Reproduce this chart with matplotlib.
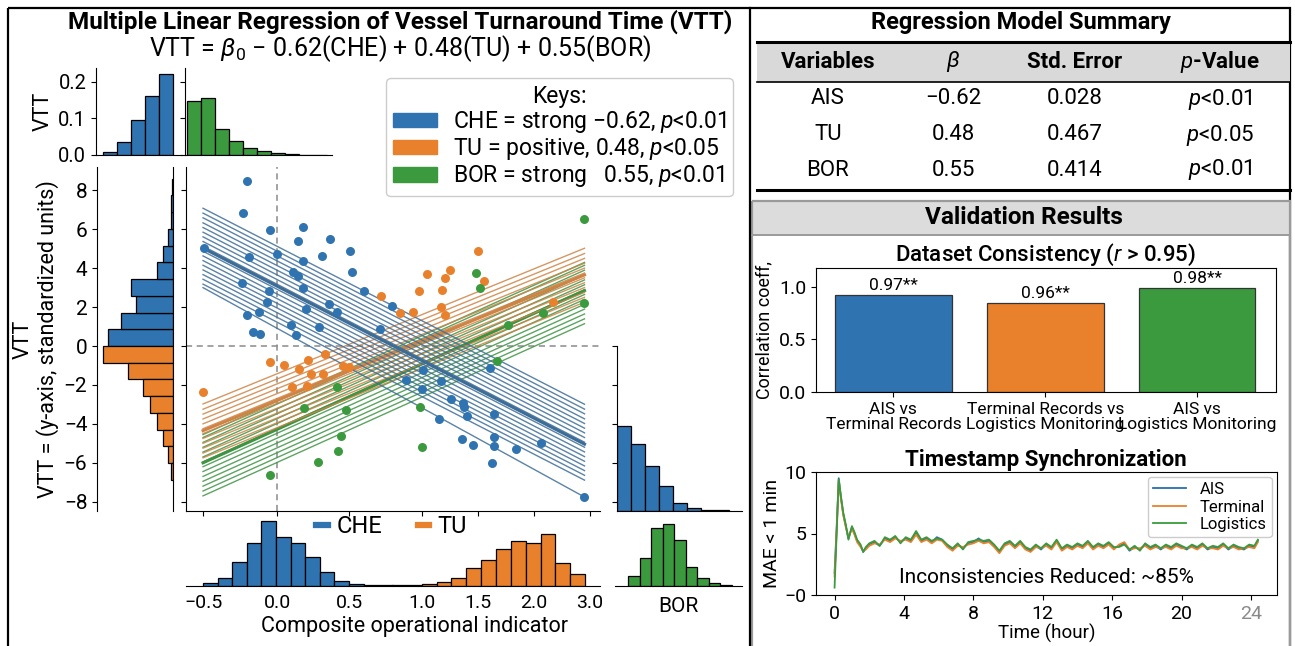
import numpy as np
import matplotlib.pyplot as plt
from matplotlib.patches import Rectangle, Patch
from matplotlib.lines import Line2D

plt.rcParams['font.family'] = ['Roboto', 'DejaVu Sans']
plt.rcParams['mathtext.fontset'] = 'custom'
plt.rcParams['mathtext.rm'] = 'Roboto'
plt.rcParams['mathtext.it'] = 'Roboto:italic'
plt.rcParams['mathtext.bf'] = 'Roboto:bold'

BLUE = '#2f73b0'
ORANGE = '#e9812c'
GREEN = '#3c9a3e'
BLUE_LN = '#3d6d97'
ORANGE_LN = '#cf8446'
GREEN_LN = '#3f9444'

# ---------------- data: main scatter ----------------
CHE_X = [-0.105, -0.136, 0.106, 0.402, 0.649, 0.362, -0.488, 0.167, 0.576, 0.827,
         -0.087, 0.407, 0.850, 0.317, 0.359, -0.147, 0.407, 0.956, 0.097, 0.082,
         0.637, 0.432, 0.709, 0.009, -0.105, 1.207, 0.546, 0.299, -0.050, 0.016,
         0.341, 1.104, 2.096, 1.478, 1.650, 1.740, 1.854, 1.861, 1.890, 2.135,
         1.632, 1.840, 1.945, 2.135, 2.129, 2.334, 2.557, 2.116, 2.948, 1.336, 1.492]
CHE_Y = [8.50, 6.85, 5.95, 6.12, 5.52, 5.40, 5.02, 4.71, 4.61, 4.87,
         4.56, 4.39, 3.82, 3.79, 3.61, 3.24, 2.97, 2.84, 2.84, 2.27,
         2.17, 1.90, 1.76, 1.76, 1.59, 2.06, 0.96, 1.08, 0.74, 0.62,
         0.57, 0.86, -1.15, -2.23, -1.80, -2.74, -2.95, -3.12, -3.58, -3.48,
         -3.75, -4.77, -5.09, -4.69, -5.14, -5.31, -4.97, -6.03, -7.76, -1.75, -1.23]

TU_X = [1.110, -0.497, 0.106, 0.230, 0.447, 0.606, 0.366, 0.477, 0.583, 0.305,
        0.441, 0.769, 0.823, 1.984, 1.734, 1.529, 1.689, 2.044, 1.454, 1.662,
        1.282, 1.397, 1.652, 1.689, 2.665]
TU_Y = [2.57, -2.38, -0.84, -0.98, -0.72, -0.43, -1.20, -1.44, -1.44, -2.09,
        -2.04, -1.03, -1.08, 4.90, 3.89, 3.69, 3.51, 3.36, 2.84, 2.88,
        1.71, 1.75, 2.02, 1.59, 2.28]

BOR_X = [0.106, 0.543, 0.718, 0.748, 0.709, 0.793, 0.416, 2.948, 1.966, 2.005,
         2.948, 2.261, 2.578, 2.156, 1.463, 1.478]
BOR_Y = [-6.63, -5.95, -5.40, -4.61, -2.09, -3.31, -3.20, 6.53, 3.74, 2.98,
         2.21, 1.06, 1.68, -0.77, -3.15, -5.18]

# fitted lines: (intercept, slope) and bundle offsets
LINE_SPAN = [-0.5, 2.95]
CHE_FIT = (3.57, -2.92)
CHE_EXTRA_FIT = (1.44, -3.12)
CHE_OFFSETS = [-1.85, -1.6, -1.36, -1.12, -0.88, -0.64, -0.40, -0.16, 0.10,
               0.34, 0.58, 0.82, 1.06, 1.30, 1.56, 1.80, 2.05]
TU_FIT = (-3.19, 2.32)
TU_OFFSETS = [-1.4, -1.15, -0.9, -0.65, -0.4, -0.15, 0.1, 0.35, 0.6, 0.85, 1.1, 1.37]
BOR_FIT = (-4.72, 2.565)
BOR_OFFSETS = [-1.7, -1.45, -1.2, -0.95, -0.7, -0.45, -0.2, 0.05, 0.3, 0.55,
               0.8, 1.05, 1.3, 1.45]

XTICK_POS = [-0.5, 0.169, 0.82, 1.48, 1.99, 2.49, 3.0]
XTICK_LABELS = ['\u22120.5', '0.0', '0.5', '1.0', '1.5', '2.0', '3.0']

# ---------------- data: marginal histograms ----------------
TOP_CHE = [0.009, 0.036, 0.096, 0.162, 0.222]
TOP_BOR = [0.149, 0.157, 0.070, 0.037, 0.018, 0.011, 0.005, 0.002, 0.001, 0.001]

VTT_BIN = 0.86
VTT_POS = [64.7, 52.3, 37.3, 42.0, 16.3, 9.7, 4.7, 2.3, 2.3, 1.3]      # blue, upward from 0
VTT_NEG = [69.7, 44.7, 29.7, 23.0, 16.3, 10.3, 4.7, 2.3]                # orange, downward from 0

RIGHT_VTT = [4.39, 3.46, 2.33, 1.30, 0.40, 0.17, 0.05, 0.03]

CHE_HIST_START, CHE_HIST_W = -0.5, 0.132
CHE_HIST = [2.2, 7.2, 23.2, 42.2, 64.5, 48.8, 42.2, 28.8, 13.2, 4.8, 1.5, 0.8, 0.5]
TU_HIST_START, TU_HIST_W = 1.209, 0.1343
TU_HIST = [0.3, 0.6, 1.5, 3.2, 7.2, 17.8, 25.5, 36.5, 44.8, 42.2, 51.5, 22.2, 11.5]
BOR_HIST = [9.7, 27.3, 57.3, 61.3, 45.7, 19.0, 7.3, 2.7, 1.0]

# ---------------- data: right panel ----------------
TABLE_HEAD = ['Variables', r'$\beta$', 'Std. Error', r'$p$-Value']
TABLE_ROWS = [['AIS', '\u22120.62', '0.028', r'$p$<0.01'],
              ['TU', '0.48', '0.467', r'$p$<0.05'],
              ['BOR', '0.55', '0.414', r'$p$<0.01']]

PAIRS = ['AIS vs\nTerminal Records', 'Terminal Records vs\nLogistics Monitoring',
         'AIS vs\nLogistics Monitoring']
CORR = [0.924, 0.848, 0.993]
CORR_LABELS = ['0.97**', '0.96**', '0.98**']

TIME_H = [0.0, 0.12, 0.24, 0.36, 0.5, 0.65, 0.8, 1.0, 1.15, 1.3, 1.5, 1.65, 1.8,
          2.0, 2.3, 2.6, 2.9, 3.2, 3.5, 3.8, 4.1, 4.4, 4.7,
          5.0, 5.3, 5.6, 5.9, 6.2, 6.5, 6.8, 7.1, 7.4, 7.7,
          8.0, 8.3, 8.6, 8.9, 9.2, 9.5, 9.8, 10.1, 10.4, 10.7,
          11.0, 11.3, 11.6, 11.9, 12.2, 12.5, 12.8, 13.1, 13.4, 13.7,
          14.0, 14.3, 14.6, 14.9, 15.2, 15.5, 15.8, 16.1, 16.4, 16.7,
          17.0, 17.3, 17.6, 17.9, 18.2, 18.5, 18.8, 19.1, 19.4, 19.7,
          20.0, 20.3, 20.6, 20.9, 21.2, 21.5, 21.8, 22.1, 22.4, 22.7,
          23.0, 23.3, 23.6, 23.9, 24.2, 24.4]
MAE_AIS = [1.8, 5.5, 9.5, 8.0, 6.6, 5.6, 4.6, 5.5, 5.0, 4.4, 4.0, 3.5, 3.8,
           4.1, 4.3, 4.0, 4.6, 4.4, 4.7, 4.3, 4.6, 4.4, 5.1,
           4.4, 4.6, 4.3, 4.7, 4.5, 4.0, 3.7, 4.1, 3.8, 4.2,
           4.3, 4.6, 4.3, 4.4, 4.0, 3.5, 4.1, 4.3, 3.9, 4.3,
           3.8, 3.6, 4.0, 3.7, 4.1, 3.8, 4.4, 3.7, 4.0, 3.8,
           4.1, 3.9, 4.3, 3.8, 4.1, 3.9, 4.2, 3.8, 4.0, 4.2,
           3.6, 3.9, 3.7, 4.1, 3.8, 4.0, 3.7, 4.0, 3.8, 4.1,
           3.9, 3.7, 4.0, 3.8, 4.1, 3.7, 3.9, 3.8, 4.1, 3.7,
           4.0, 3.8, 3.7, 4.0, 3.9, 4.4]
MAE_TERMINAL = [1.5, 5.2, 9.3, 7.9, 6.5, 5.5, 4.7, 5.4, 4.9, 4.3, 3.9, 3.6, 3.7,
                4.0, 4.2, 4.1, 4.5, 4.3, 4.6, 4.4, 4.5, 4.3, 4.9,
                4.3, 4.5, 4.2, 4.5, 4.4, 3.9, 3.6, 4.0, 3.9, 4.1,
                4.2, 4.4, 4.2, 4.3, 3.9, 3.4, 4.0, 4.2, 3.8, 4.2,
                3.7, 3.5, 3.9, 3.8, 4.0, 3.7, 4.3, 3.6, 3.9, 3.7,
                4.0, 3.8, 4.2, 3.7, 4.0, 3.8, 4.1, 3.7, 4.1, 4.3,
                3.7, 3.8, 3.8, 4.0, 3.7, 3.9, 3.8, 3.9, 3.7, 4.0,
                3.8, 3.8, 3.9, 3.7, 4.0, 3.8, 3.8, 3.7, 4.0, 3.8,
                3.9, 3.7, 3.8, 3.9, 3.8, 4.3]
MAE_LOGISTICS = [0.6, 5.0, 9.4, 8.1, 6.7, 5.7, 4.5, 5.6, 5.1, 4.5, 4.1, 3.5, 3.9,
                 4.2, 4.4, 4.0, 4.7, 4.5, 4.8, 4.2, 4.7, 4.5, 5.2,
                 4.5, 4.7, 4.4, 4.6, 4.5, 4.1, 3.8, 4.2, 3.7, 4.3,
                 4.4, 4.5, 4.4, 4.5, 4.1, 3.6, 4.2, 4.4, 4.0, 4.4,
                 3.9, 3.7, 4.1, 3.8, 4.2, 3.9, 4.5, 3.8, 4.1, 3.9,
                 4.2, 4.0, 4.4, 3.9, 4.2, 4.0, 4.3, 3.9, 3.9, 4.1,
                 3.7, 4.0, 3.6, 4.2, 3.9, 4.1, 3.8, 4.1, 3.9, 4.2,
                 4.0, 3.8, 4.1, 3.9, 4.2, 3.8, 4.0, 3.9, 4.2, 3.8,
                 4.1, 3.9, 3.8, 4.1, 4.0, 4.5]

# ------------------------------------------------------------
W, H = 1295, 646
fig = plt.figure(figsize=(W / 100, H / 100), dpi=100)


def box(x0, y0, x1, y1):
    """pixel box (top-left origin) -> figure rect"""
    return [x0 / W, 1 - y1 / H, (x1 - x0) / W, (y1 - y0) / H]


# canvas in pixel coordinates for frames and the table
cv = fig.add_axes([0, 0, 1, 1])
cv.set_xlim(0, W)
cv.set_ylim(H, 0)
cv.axis('off')
cv.add_patch(Rectangle((8, 8), 1282, 660, fill=False, ec='black', lw=1.6))
cv.plot([750, 750], [8, H], color='black', lw=1.6)

# ---------------- left panel ----------------
YLIM = (-8.48, 9.20)
XLIM = (-0.654, 3.09)

ax = fig.add_axes(box(186, 167, 600, 511))
ax.set_xlim(*XLIM)
ax.set_ylim(*YLIM)
for s in ['top', 'right']:
    ax.spines[s].set_visible(False)
ax.set_xticks(XTICK_POS)
ax.set_xticklabels([])
ax.set_yticks(np.arange(-8, 9, 2))
ax.set_yticklabels([])
ax.axvline(XTICK_POS[1], color='#8a8a8a', lw=1.1, ls=(0, (4, 3)), zorder=1)
ax.axhline(0, color='#8a8a8a', lw=1.1, ls=(0, (4, 3)), zorder=1)

xs = np.array(LINE_SPAN)
for off in BOR_OFFSETS:
    ax.plot(xs, BOR_FIT[0] + BOR_FIT[1] * xs + off, color=GREEN_LN, lw=1.0, alpha=0.85, zorder=2)
ax.plot(xs, BOR_FIT[0] + BOR_FIT[1] * xs, color=GREEN_LN, lw=2.2, zorder=2)
for off in TU_OFFSETS:
    ax.plot(xs, TU_FIT[0] + TU_FIT[1] * xs + off, color=ORANGE_LN, lw=1.0, alpha=0.85, zorder=2)
ax.plot(xs, TU_FIT[0] + TU_FIT[1] * xs, color=ORANGE_LN, lw=2.2, zorder=2)
for off in CHE_OFFSETS:
    ax.plot(xs, CHE_FIT[0] + CHE_FIT[1] * xs + off, color=BLUE_LN, lw=1.0, alpha=0.85, zorder=2)
ax.plot(xs, CHE_EXTRA_FIT[0] + CHE_EXTRA_FIT[1] * xs, color=BLUE_LN, lw=1.0, alpha=0.85, zorder=2)
ax.plot(xs, CHE_FIT[0] + CHE_FIT[1] * xs, color=BLUE_LN, lw=2.2, zorder=2)

ax.scatter(CHE_X, CHE_Y, s=42, color=BLUE, lw=0, zorder=3)
ax.scatter(TU_X, TU_Y, s=42, color=ORANGE, lw=0, zorder=3)
ax.scatter(BOR_X, BOR_Y, s=42, color=GREEN, lw=0, zorder=3)

# left marginal (VTT)
axl = fig.add_axes(box(97, 167, 173, 511))
pos_c = VTT_BIN * (np.arange(len(VTT_POS)) + 0.5)
neg_c = -VTT_BIN * (np.arange(len(VTT_NEG)) + 0.5)
axl.barh(pos_c, VTT_POS, height=VTT_BIN, color=BLUE, ec='black', lw=0.9)
axl.barh(neg_c, VTT_NEG, height=VTT_BIN, color=ORANGE, ec='black', lw=0.9)
axl.set_xlim(76, 0)
axl.set_ylim(*YLIM)
axl.set_xticks([])
axl.spines['top'].set_visible(False)
axl.spines['bottom'].set_visible(False)
axl.set_yticks(np.arange(-8, 9, 2))
axl.set_yticklabels([str(v).replace('-', '\u2212') for v in range(-8, 9, 2)], fontsize=15)
axl.set_ylabel('VTT\nVTT = (y-axis, standardized units)', fontsize=15.5, labelpad=3,
               linespacing=1.15)

# top marginals
axt1 = fig.add_axes(box(96, 68, 182, 155))
axt1.bar(np.arange(len(TOP_CHE)), TOP_CHE, width=1, align='edge', color=BLUE, ec='black', lw=0.9)
axt1.set_xlim(-0.5, 5.64)
axt1.set_ylim(0, 0.238)
axt1.set_xticks([])
axt1.set_yticks([0, 0.1, 0.2])
axt1.set_yticklabels(['0.0', '0.1', '0.2'], fontsize=14.5)
axt1.set_ylabel('VTT', fontsize=15.5, labelpad=3)
for s in ['top', 'right']:
    axt1.spines[s].set_visible(False)

axt2 = fig.add_axes(box(185, 68, 332, 155))
axt2.bar(np.arange(len(TOP_BOR)), TOP_BOR, width=1, align='edge', color=GREEN, ec='black', lw=0.9)
axt2.set_xlim(-0.14, 10.36)
axt2.set_ylim(0, 0.238)
axt2.set_xticks([])
axt2.set_yticks([0, 0.1, 0.2])
axt2.set_yticklabels([])
for s in ['top', 'right']:
    axt2.spines[s].set_visible(False)

# right marginal (BOR vs VTT)
axr = fig.add_axes(box(617, 346, 742, 511))
axr.bar(np.arange(len(RIGHT_VTT)), RIGHT_VTT, width=1, align='edge', bottom=YLIM[0],
        color=BLUE, ec='black', lw=0.9)
axr.set_xlim(0, 8.93)
axr.set_ylim(YLIM[0], 0)
axr.set_xticks([])
axr.set_yticks([0, -2, -4, -6, -8])
axr.set_yticklabels([])
for s in ['top', 'right']:
    axr.spines[s].set_visible(False)

# bottom marginal (composite indicator)
axb = fig.add_axes(box(186, 518, 600, 585.5))
axb.bar(CHE_HIST_START + CHE_HIST_W * np.arange(len(CHE_HIST)), CHE_HIST, width=CHE_HIST_W,
        align='edge', color=BLUE, ec='black', lw=0.9)
axb.bar(TU_HIST_START + TU_HIST_W * np.arange(len(TU_HIST)), TU_HIST, width=TU_HIST_W,
        align='edge', color=ORANGE, ec='black', lw=0.9)
axb.set_xlim(*XLIM)
axb.set_ylim(0, 67.5)
axb.set_yticks([])
for s in ['top', 'right', 'left']:
    axb.spines[s].set_visible(False)
axb.set_xticks(XTICK_POS)
axb.set_xticklabels(XTICK_LABELS, fontsize=14)
axb.tick_params(axis='x', length=0, pad=6)
axb.set_xlabel('Composite operational indicator', fontsize=15.5, labelpad=3, x=0.553)
axb.legend(handles=[Line2D([], [], color=BLUE, lw=4.5), Line2D([], [], color=ORANGE, lw=4.5)],
           labels=['CHE', 'TU'], ncol=2, frameon=False, fontsize=17, handlelength=0.5,
           handletextpad=0.35, columnspacing=1.5, loc='center left', borderpad=0,
           borderaxespad=0, bbox_to_anchor=(0.315, 0.87))

axbr = fig.add_axes(box(615, 518, 742, 585.5))
axbr.bar(np.arange(len(BOR_HIST)), BOR_HIST, width=1, align='edge', color=GREEN, ec='black', lw=0.9)
axbr.set_xlim(-1.13, 9.91)
axbr.set_ylim(0, 67.5)
axbr.set_xticks([])
axbr.set_yticks([])
for s in ['top', 'right', 'left']:
    axbr.spines[s].set_visible(False)
axbr.set_xlabel('BOR', fontsize=15, labelpad=8)

# titles and keys
cv.text(400, 22, 'Multiple Linear Regression of Vessel Turnaround Time (VTT)', ha='center',
        va='center', fontsize=17.5, fontweight='bold')
cv.text(400, 49, r'VTT = $\beta_0$ $-$ 0.62(CHE) + 0.48(TU) + 0.55(BOR)', ha='center',
        va='center', fontsize=18)
key_handles = [Patch(color=BLUE), Patch(color=ORANGE), Patch(color=GREEN)]
key_labels = [r'CHE = strong $-$0.62, $p$<0.01', r'TU = positive, 0.48, $p$<0.05',
              r'BOR = strong   0.55, $p$<0.01']
fig.legend(key_handles, key_labels, title='Keys:', title_fontsize=16.5, fontsize=16.5,
           loc='upper right', bbox_to_anchor=(733 / W, 1 - 78 / H), handlelength=1.9,
           handleheight=0.6, handletextpad=0.7, labelspacing=0.05, borderpad=0.3,
           borderaxespad=0, framealpha=1.0, edgecolor='#cccccc')

# ---------------- right panel: table ----------------
cv.text(1021, 22, 'Regression Model Summary', ha='center', va='center', fontsize=17, fontweight='bold')
cv.add_patch(Rectangle((757, 42), 533, 40, color='#d9d9d9', lw=0))
cv.plot([757, 1290], [42, 42], color='black', lw=2.2)
cv.plot([757, 1290], [82, 82], color='black', lw=1.2)
cv.plot([757, 1290], [190, 190], color='black', lw=2.2)
COL_X = [828, 953, 1075, 1220]
ROW_Y = [99, 135, 170]
for cx, t in zip(COL_X, TABLE_HEAD):
    cv.text(cx, 62, t, ha='center', va='center', fontsize=16, fontweight='bold')
for ry, row in zip(ROW_Y, TABLE_ROWS):
    for cx, t in zip(COL_X, row):
        cv.text(cx, ry, t, ha='center', va='center', fontsize=16)

# ---------------- right panel: validation ----------------
cv.add_patch(Rectangle((752, 201), 538, 34, color='#dcdcdc', lw=0))
cv.add_patch(Rectangle((752, 201), 538, 460, fill=False, ec='#9a9a9a', lw=1.6))
cv.plot([752, 1290], [235, 235], color='#9a9a9a', lw=1.4)
cv.text(1024, 218, 'Validation Results', ha='center', va='center', fontsize=17.5, fontweight='bold')

axc = fig.add_axes(box(816, 268, 1275.5, 392))
axc.bar(range(len(CORR)), CORR, width=0.77, color=[BLUE, ORANGE, GREEN], ec='#333333', lw=0.9)
for i, (v, t) in enumerate(zip(CORR, CORR_LABELS)):
    axc.text(i, v + 0.02, t, ha='center', va='bottom', fontsize=12.5)
axc.set_xlim(-0.51, 2.517)
axc.set_ylim(0, 1.18)
axc.set_yticks([0, 0.5, 1.0])
axc.set_yticklabels(['0.0', '0.5', '1.0'], fontsize=14)
axc.set_xticks(range(len(PAIRS)))
axc.set_xticklabels(PAIRS, fontsize=12.5, linespacing=1.0)
axc.set_ylabel('Correlation coeff,', fontsize=13, labelpad=4)
axc.set_title(r'Dataset Consistency ($r$ > 0.95)', fontsize=16, pad=4, fontweight='medium')

axs = fig.add_axes(box(816, 472, 1276.6, 595))
axs.plot(TIME_H, MAE_AIS, color='#2a6fa8', lw=1.3, label='AIS')
axs.plot(TIME_H, MAE_TERMINAL, color=ORANGE, lw=1.3, label='Terminal')
axs.plot(TIME_H, MAE_LOGISTICS, color=GREEN, lw=1.3, label='Logistics')
axs.set_xlim(-1.07, 25.48)
axs.set_ylim(0, 10)
axs.set_xticks([0, 4, 8, 12, 16, 20, 24])
axs.set_xticklabels(['0', '4', '8', '12', '16', '20', '24'], fontsize=14)
axs.get_xticklabels()[-1].set_color('#8a8a8a')
axs.set_yticks([0, 5, 10])
axs.set_yticklabels(['\u22120', '5', '10'], fontsize=14)
axs.set_xlabel('Time (hour)', fontsize=13.5, labelpad=1)
axs.set_ylabel('MAE < 1 min', fontsize=14, labelpad=2)
axs.set_title('Timestamp Synchronization', fontsize=16, fontweight='bold', pad=4)
axs.text(0.5, 0.14, 'Inconsistencies Reduced: ~85%', transform=axs.transAxes, ha='center',
         va='center', fontsize=15)
axs.legend(loc='upper right', fontsize=12, handlelength=2.0, labelspacing=0.15,
           borderpad=0.3, borderaxespad=0.3, framealpha=1.0, edgecolor='#cccccc')

fig.savefig('out.png', dpi=100)
